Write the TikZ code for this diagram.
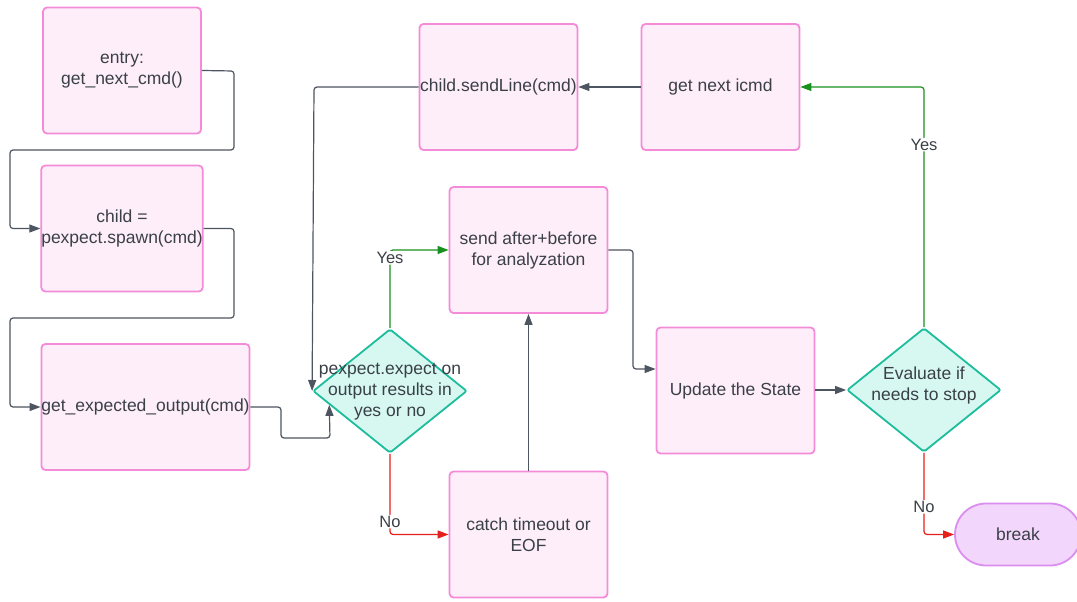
\documentclass[tikz,border=0pt]{standalone}
\usepackage{fontspec}
\setmainfont{Liberation Sans}
\usetikzlibrary{shapes.geometric,arrows.meta,calc}
\definecolor{boxfill}{HTML}{FEEEF9}
\definecolor{boxdraw}{HTML}{F38BD8}
\definecolor{dfill}{HTML}{D6F8F1}
\definecolor{ddraw}{HTML}{1CBC9C}
\definecolor{brfill}{HTML}{F2D6FB}
\definecolor{brdraw}{HTML}{DA8EEF}
\definecolor{txt}{HTML}{3A4048}
\definecolor{conncol}{HTML}{4D5560}
\definecolor{yescol}{HTML}{18901E}
\definecolor{nocol}{HTML}{E6201C}
\begin{document}
\begin{tikzpicture}[x=1pt,y=-1pt,
  every node/.style={font=\fontsize{17.5}{21}\selectfont, text=txt},
  procbox/.style={rectangle, rounded corners=4pt, draw=boxdraw, fill=boxfill, line width=1.8pt,
    minimum width=158pt, minimum height=126pt, align=center, inner sep=0pt},
  decbox/.style={diamond, draw=ddraw, fill=dfill, line width=1.8pt, rounded corners=2pt,
    minimum width=154pt, minimum height=124pt, inner sep=0pt},
  dectext/.style={align=center, inner sep=0pt},
  endbox/.style={rectangle, rounded corners=31pt, draw=brdraw, fill=brfill, line width=1.8pt,
    minimum width=126pt, minimum height=62pt, inner sep=0pt},
  conn/.style={draw=conncol, line width=1.2pt, rounded corners=3pt,
    -{Triangle[length=11pt,width=8pt]}},
  yesconn/.style={conn, draw=yescol, -{Triangle[length=11pt,width=8pt,fill=yescol]}},
  noconn/.style={conn, draw=nocol, -{Triangle[length=11pt,width=8pt,fill=nocol]}},
  lbl/.style={fill=white, inner sep=1pt, font=\fontsize{16.5}{19}\selectfont}
]
\useasboundingbox (0,0) rectangle (1077,602);

\node[procbox] (b1) at (122,70.5) {entry:\\get\_next\_cmd()};
\node[procbox] (b2) at (122,228.5) {child =\\pexpect.spawn(cmd)};
\node[procbox, minimum width=206pt] (b3) at (145.5,407) {get\_expected\_output(cmd)};
\node[decbox] (d1) at (390,391) {};
\node[dectext] (d1t) at (390,391.5) {pexpect.expect on\\output results in\\yes or no};
\node[procbox] (send) at (528.5,250) {send after+before\\for analyzation};
\node[procbox] (catch) at (528.5,534.5) {catch timeout or\\EOF};
\node[procbox] (sl) at (498.5,87) {child.sendLine(cmd)};
\node[procbox] (gn) at (720.5,87) {get next icmd};
\node[procbox] (up) at (735.5,390.5) {Update the State};
\node[decbox] (d2) at (924,390) {};
\node[dectext] (d2t) at (924,385) {Evaluate if\\needs to stop};
\node[endbox] (brk) at (1018,534.5) {break};

\coordinate (d1in) at ($(d1.west)!0.22!(d1.south)$);

\draw[conn] (b1.east) -- (234,71) -- (234,150) -- (10,150) -- (10,228.5) -- (b2.west);
\draw[conn] (b2.east) -- (234,228.5) -- (234,318) -- (10,318) -- (10,407) -- (b3.west);
\draw[conn] (b3.east) -- (281,407) -- (281,438) -- (330,438) -- (d1in);
\draw[conn] (sl.west) -- (314,87) -- (d1.west);
\draw[conn] (gn.west) -- (sl.east);
\draw[conn] (catch.north) -- (send.south);
\draw[conn] (send.east) -- (633,250) -- (633,369) -- (up.west |- 0,369);
\draw[conn] (up.east |- 0,390) -- (d2.west);

\draw[yesconn] (d1.north) |- node[lbl, pos=0.45] {Yes} (send.west);
\draw[noconn] (d1.south) |- node[lbl, pos=0.42] {No} (catch.west);
\draw[yesconn] (d2.north) |- node[lbl, pos=0.38] {Yes} (gn.east);
\draw[noconn] (d2.south) |- node[lbl, pos=0.33] {No} (brk.west);
\end{tikzpicture}
\end{document}
